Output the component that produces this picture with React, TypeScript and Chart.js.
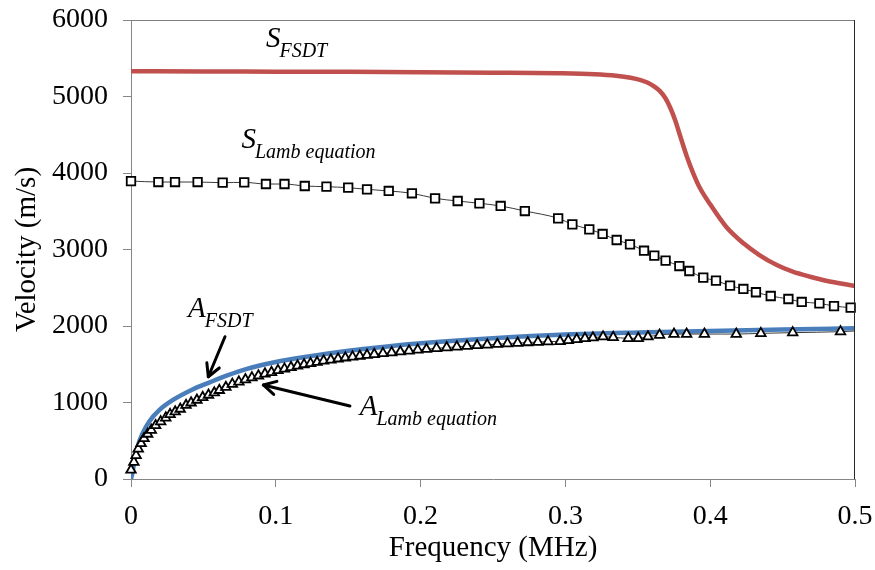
import React, { useEffect, useRef } from "react";
import { Chart, registerables } from "chart.js";

Chart.register(...registerables);

// S mode, FSDT (red curve)
const sFsdtFreq = [0, 0.05, 0.1, 0.15, 0.2, 0.25, 0.296, 0.32, 0.335, 0.345, 0.352, 0.357, 0.3615, 0.3653, 0.369, 0.3725, 0.376, 0.379, 0.3838, 0.3883, 0.393, 0.4, 0.411, 0.423, 0.434, 0.446, 0.457, 0.469, 0.48, 0.5];
const sFsdtVel = [5330, 5328, 5325, 5322, 5318, 5312, 5303, 5290, 5270, 5245, 5215, 5180, 5130, 5070, 4980, 4850, 4680, 4500, 4220, 3996, 3800, 3590, 3298, 3081, 2928, 2797, 2710, 2644, 2592, 2523];

// S mode, Lamb equation (squares)
const sLambFreq = [0, 0.0189, 0.0304, 0.046, 0.0633, 0.0782, 0.0932, 0.106, 0.12, 0.135, 0.15, 0.163, 0.178, 0.194, 0.21, 0.2256, 0.2406, 0.2553, 0.272, 0.295, 0.3048, 0.3165, 0.3257, 0.3354, 0.3446, 0.3543, 0.3614, 0.3692, 0.3787, 0.3856, 0.3952, 0.404, 0.4137, 0.4229, 0.4316, 0.4418, 0.454, 0.4632, 0.4754, 0.4855, 0.497];
const sLambVel = [3895, 3882, 3882, 3882, 3873, 3878, 3856, 3856, 3830, 3821, 3808, 3787, 3765, 3735, 3669, 3634, 3604, 3569, 3503, 3408, 3329, 3264, 3203, 3124, 3068, 2984, 2919, 2854, 2784, 2719, 2632, 2593, 2527, 2484, 2441, 2392, 2353, 2314, 2296, 2261, 2239];

// A mode, FSDT (blue curve)
const aFsdtFreq = [0, 0.001, 0.0025, 0.0045, 0.008, 0.0125, 0.0195, 0.029, 0.0425, 0.054, 0.066, 0.08, 0.1, 0.12, 0.14, 0.16, 0.18, 0.2, 0.25, 0.3, 0.35, 0.4, 0.45, 0.5];
const aFsdtVel = [0, 80, 250, 420, 597, 749, 900, 1033, 1170, 1260, 1350, 1440, 1530, 1595, 1650, 1700, 1740, 1775, 1840, 1888, 1915, 1935, 1955, 1970];

// A mode, Lamb equation (triangles); the last point only continues the line
const aLambFreq = [0, 0.002, 0.0035, 0.005, 0.007, 0.009, 0.0115, 0.014, 0.017, 0.0205, 0.024, 0.027, 0.0305, 0.034, 0.038, 0.0415, 0.0455, 0.0495, 0.0535, 0.0575, 0.061, 0.0655, 0.07, 0.0745, 0.079, 0.0835, 0.088, 0.0925, 0.097, 0.1015, 0.106, 0.1105, 0.115, 0.1195, 0.124, 0.1285, 0.133, 0.138, 0.143, 0.148, 0.153, 0.158, 0.163, 0.168, 0.174, 0.18, 0.186, 0.192, 0.198, 0.204, 0.211, 0.218, 0.225, 0.232, 0.239, 0.246, 0.253, 0.26, 0.267, 0.274, 0.281, 0.288, 0.2963, 0.302, 0.3078, 0.3135, 0.319, 0.326, 0.333, 0.3434, 0.3503, 0.357, 0.365, 0.375, 0.3837, 0.396, 0.418, 0.435, 0.457, 0.49, 0.5];
const aLambVel = [118, 220, 310, 395, 465, 530, 588, 640, 700, 750, 800, 845, 880, 915, 965, 997, 1033, 1068, 1098, 1128, 1160, 1200, 1240, 1270, 1300, 1325, 1350, 1375, 1395, 1420, 1440, 1460, 1480, 1497, 1512, 1527, 1545, 1558, 1572, 1585, 1596, 1608, 1620, 1630, 1642, 1653, 1664, 1676, 1688, 1697, 1708, 1718, 1728, 1738, 1746, 1754, 1762, 1770, 1777, 1784, 1790, 1796, 1800, 1812, 1826, 1839, 1847, 1860, 1852, 1839, 1839, 1860, 1882, 1895, 1895, 1895, 1895, 1904, 1913, 1926, 1935];

const xTicks = [0, 0.1, 0.2, 0.3, 0.4, 0.5];
const yTicks = [0, 1000, 2000, 3000, 4000, 5000, 6000];

// annotation labels: main letter, subscript, anchor (freq, velocity) of main letter baseline-left
const labelMain = ["S", "S", "A", "A"];
const labelSub = ["FSDT", "Lamb equation", "FSDT", "Lamb equation"];
const labelFreq = [0.0932, 0.0763, 0.0394, 0.158];
const labelVel = [5651, 4327, 2122, 837];

// arrows: tail and tip in data units
const arrowTailFreq = [0.0649, 0.1512];
const arrowTailVel = [1860, 954];
const arrowTipFreq = [0.0534, 0.0914];
const arrowTipVel = [1337, 1229];

const FONT = '"Liberation Serif", "Times New Roman", serif';

const pts = (xs: number[], ys: number[]) => xs.map((x, i) => ({ x, y: ys[i] }));

const overlay = {
  id: "overlay",
  afterDatasetsDraw(chart: any) {
    const { ctx, chartArea: a, scales } = chart;
    const xs = scales.x;
    const ys = scales.y;
    ctx.save();
    ctx.lineWidth = 1;
    ctx.strokeStyle = "#7f7f7f";
    ctx.beginPath();
    ctx.moveTo(a.left, Math.round(a.top) + 0.5);
    ctx.lineTo(a.right, Math.round(a.top) + 0.5);
    ctx.stroke();
    ctx.strokeStyle = "#262626";
    ctx.beginPath();
    ctx.moveTo(Math.round(a.right) - 0.5, a.top);
    ctx.lineTo(Math.round(a.right) - 0.5, a.bottom);
    ctx.stroke();

    ctx.fillStyle = "#000";
    ctx.textAlign = "left";
    ctx.textBaseline = "alphabetic";
    for (let i = 0; i < labelMain.length; i++) {
      const px = xs.getPixelForValue(labelFreq[i]);
      const py = ys.getPixelForValue(labelVel[i]);
      ctx.font = `italic 29px ${FONT}`;
      ctx.fillText(labelMain[i], px, py);
      const w = ctx.measureText(labelMain[i]).width;
      ctx.font = `italic 20px ${FONT}`;
      ctx.fillText(labelSub[i], px + w - 1, py + 10);
    }

    ctx.strokeStyle = "#000";
    ctx.lineWidth = 3;
    ctx.lineCap = "round";
    ctx.lineJoin = "round";
    for (let i = 0; i < arrowTailFreq.length; i++) {
      const x0 = xs.getPixelForValue(arrowTailFreq[i]);
      const y0 = ys.getPixelForValue(arrowTailVel[i]);
      const x1 = xs.getPixelForValue(arrowTipFreq[i]);
      const y1 = ys.getPixelForValue(arrowTipVel[i]);
      const ang = Math.atan2(y1 - y0, x1 - x0);
      const L = 14;
      ctx.beginPath();
      ctx.moveTo(x0, y0);
      ctx.lineTo(x1, y1);
      ctx.stroke();
      ctx.beginPath();
      ctx.moveTo(x1 - L * Math.cos(ang - 0.5), y1 - L * Math.sin(ang - 0.5));
      ctx.lineTo(x1, y1);
      ctx.lineTo(x1 - L * Math.cos(ang + 0.5), y1 - L * Math.sin(ang + 0.5));
      ctx.stroke();
    }
    ctx.restore();
  },
};

export default function App() {
  const ref = useRef<HTMLCanvasElement | null>(null);
  useEffect(() => {
    if (!ref.current) return;
    const lastTri = aLambFreq.length - 1;
    const chart = new Chart(ref.current, {
      type: "line",
      data: {
        datasets: [
          {
            label: "A FSDT",
            data: pts(aFsdtFreq, aFsdtVel),
            borderColor: "#4a7ebb",
            borderWidth: 4.5,
            pointRadius: 0,
            cubicInterpolationMode: "monotone",
            order: 4,
          },
          {
            label: "A Lamb equation",
            data: pts(aLambFreq, aLambVel),
            borderColor: "#3a3a3a",
            borderWidth: 1,
            pointStyle: "triangle",
            pointRadius: (c: any) => (c.dataIndex === lastTri ? 0 : 5.5),
            pointBorderColor: "#000",
            pointBackgroundColor: "#fff",
            pointBorderWidth: 1.8,
            cubicInterpolationMode: "monotone",
            clip: false,
            order: 3,
          },
          {
            label: "S Lamb equation",
            data: pts(sLambFreq, sLambVel),
            borderColor: "#3a3a3a",
            borderWidth: 1,
            pointStyle: "rect",
            pointRadius: 6,
            pointBorderColor: "#000",
            pointBackgroundColor: "#fff",
            pointBorderWidth: 1.8,
            cubicInterpolationMode: "monotone",
            clip: false,
            order: 2,
          },
          {
            label: "S FSDT",
            data: pts(sFsdtFreq, sFsdtVel),
            borderColor: "#c0504d",
            borderWidth: 4.5,
            pointRadius: 0,
            cubicInterpolationMode: "monotone",
            order: 1,
          },
        ],
      },
      options: {
        responsive: false,
        animation: false,
        layout: { padding: { left: 0, right: 20, top: 20, bottom: 0 } },
        plugins: { legend: { display: false }, tooltip: { enabled: false } },
        scales: {
          x: {
            type: "linear",
            min: 0,
            max: 0.5,
            afterBuildTicks: (s: any) => {
              s.ticks = xTicks.map((v) => ({ value: v }));
            },
            afterFit: (s: any) => {
              s.height = 91;
              s.paddingLeft = 0;
              s.paddingRight = 0;
              s.paddingTop = 0;
              s.paddingBottom = 0;
            },
            ticks: {
              color: "#000",
              font: { family: FONT, size: 28 },
              padding: 13,
              maxRotation: 0,
              autoSkip: false,
              callback: (v: any) => String(v),
            },
            grid: { drawOnChartArea: false, drawTicks: true, tickLength: 8, color: "#868686" },
            border: { color: "#868686", width: 1 },
            title: {
              display: true,
              text: "Frequency (MHz)",
              color: "#000",
              font: { family: FONT, size: 29 },
              padding: { top: 0, bottom: 4 },
            },
          },
          y: {
            type: "linear",
            min: 0,
            max: 6000,
            afterBuildTicks: (s: any) => {
              s.ticks = yTicks.map((v) => ({ value: v }));
            },
            afterFit: (s: any) => {
              s.width = 131;
              s.paddingLeft = 0;
              s.paddingRight = 0;
              s.paddingTop = 0;
              s.paddingBottom = 0;
            },
            ticks: {
              color: "#000",
              font: { family: FONT, size: 28 },
              padding: 15,
              autoSkip: false,
              callback: (v: any) => String(v),
            },
            grid: { drawOnChartArea: false, drawTicks: true, tickLength: 8, color: "#868686" },
            border: { color: "#868686", width: 1 },
            title: {
              display: true,
              text: "Velocity (m/s)",
              color: "#000",
              font: { family: FONT, size: 29 },
              padding: { top: 10, bottom: 0 },
            },
          },
        },
      },
      plugins: [overlay],
    });
    return () => chart.destroy();
  }, []);
  return (
    <div style={{ position: "fixed", left: 0, top: 0, width: 875, height: 570, background: "#fff" }}>
      <canvas ref={ref} width={875} height={570} />
    </div>
  );
}
